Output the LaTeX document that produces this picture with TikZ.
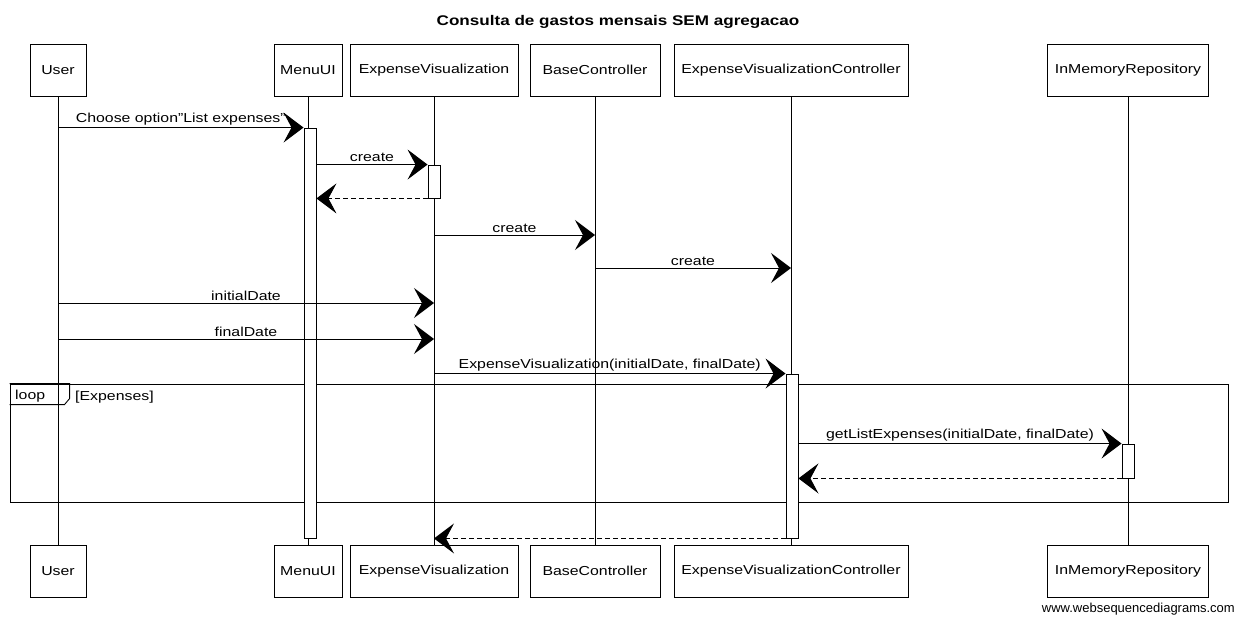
\documentclass[tikz,border=0pt]{standalone}
\usepackage{fontspec}
\setmainfont[FakeStretch=1.22]{Liberation Sans}
\newfontfamily\wmfont{Liberation Sans}
\usetikzlibrary{arrows.meta}
\begin{document}
\begin{tikzpicture}[x=1pt,y=-1pt,
 actor/.style={draw, line width=0.9pt, minimum height=52pt, inner sep=0pt, font=\fontsize{13}{15}\selectfont},
 life/.style={line width=0.7pt},
 act/.style={draw, fill=white, line width=0.9pt, minimum width=12pt, inner sep=0pt},
 msg/.style={line width=1pt, -{Stealth[length=20pt,width=30pt,inset=8pt]}},
 ret/.style={msg, dashed, dash pattern=on 5pt off 3pt},
 lbl/.style={font=\fontsize{13}{15}\selectfont, inner sep=2pt},
 frame/.style={draw, line width=0.9pt, inner sep=0pt},
]
\useasboundingbox (0,0) rectangle (1236,618);
% title
\node[font=\fontsize{14}{16}\selectfont\bfseries] (title) at (618,22) {Consulta de gastos mensais SEM agregacao};
% participants top
\node[actor, minimum width=56pt]  (userT) at (58,70) {User};
\node[actor, minimum width=68pt]  (menuT) at (308,70) {MenuUI};
\node[actor, minimum width=168pt] (evT)   at (434,70) {ExpenseVisualization};
\node[actor, minimum width=130pt] (baseT) at (595,70) {BaseController};
\node[actor, minimum width=234pt] (evcT)  at (791,70) {ExpenseVisualizationController};
\node[actor, minimum width=161pt] (imrT)  at (1128,70) {InMemoryRepository};
% participants bottom
\node[actor, minimum width=56pt]  (userB) at (58,571) {User};
\node[actor, minimum width=68pt]  (menuB) at (308,571) {MenuUI};
\node[actor, minimum width=168pt] (evB)   at (434,571) {ExpenseVisualization};
\node[actor, minimum width=130pt] (baseB) at (595,571) {BaseController};
\node[actor, minimum width=234pt] (evcB)  at (791,571) {ExpenseVisualizationController};
\node[actor, minimum width=161pt] (imrB)  at (1128,571) {InMemoryRepository};
% lifelines
\draw[life] (userT) -- (userB);
\draw[life] (menuT) -- (menuB);
\draw[life] (evT) -- (evB);
\draw[life] (baseT) -- (baseB);
\draw[life] (evcT) -- (evcB);
\draw[life] (imrT) -- (imrB);
% loop frame
\node[frame, minimum width=1218pt, minimum height=118pt] (loopF) at (619,443) {};
\draw[line width=0.9pt] (loopF.north west) -- ++(60,0) -- ++(0,15) -- ++(-5,6) -- ++(-55,0);
\node[lbl, anchor=west] (loopL) at (13,396) {loop};
\node[lbl, anchor=west] (loopG) at (73,397) {[Expenses]};
% activations
\node[act, minimum height=410pt] (menuA) at (310,333) {};
\node[act, minimum height=33pt]  (evA1)  at (434,181.5) {};
\node[act, minimum height=164pt] (evcA)  at (792,456) {};
\node[act, minimum height=34pt]  (imrA)  at (1128,461) {};
% messages
\draw[msg] (userT |- menuA.north west) -- node[lbl, above] {Choose option"List expenses"} (menuA.north west);
\draw[msg] (menuA.east |- evA1.north) -- node[lbl, above] {create} (evA1.north west);
\draw[ret] (evA1.south west) -- (menuA.east |- evA1.south);
\draw[msg] (evT |- 0,235) -- node[lbl, above] {create} (baseT |- 0,235);
\draw[msg] (baseT |- 0,268) -- node[lbl, above] {create} (evcT |- 0,268);
\draw[msg] (userT |- 0,303) -- node[lbl, above] {initialDate} (evT |- 0,303);
\draw[msg] (userT |- 0,339) -- node[lbl, above] {finalDate} (evT |- 0,339);
\draw[msg] (evT |- evcA.north) -- node[lbl, above] {ExpenseVisualization(initialDate, finalDate)} (evcA.north west);
\draw[msg] (evcA.east |- imrA.north) -- node[lbl, above] {getListExpenses(initialDate, finalDate)} (imrA.north west);
\draw[ret] (imrA.south west) -- (evcA.east |- imrA.south);
\draw[ret] (evcA.south west) -- (evT |- evcA.south);
% watermark
\node[font=\wmfont\fontsize{13}{15}\selectfont, anchor=east, inner sep=0pt] (wm) at (1235,609) {www.websequencediagrams.com};
\end{tikzpicture}
\end{document}
